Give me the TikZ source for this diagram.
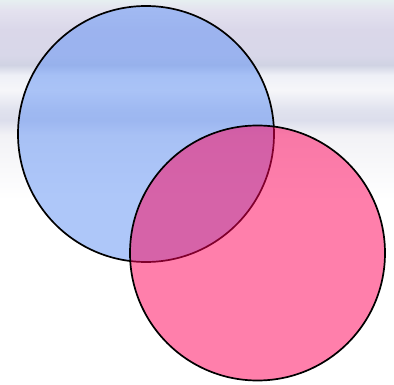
\documentclass[tikz,border=0pt]{standalone}
\begin{document}
\begin{tikzpicture}[x=1pt,y=1pt,
  band/.style={draw=none},
  venn/.style={circle,draw=black,line width=1.7pt,inner sep=0pt,minimum size=256pt},
]
\definecolor{bgA}{HTML}{E6EFF0}
\definecolor{bgB}{HTML}{E4E2EF}
\definecolor{bgC}{HTML}{DAD7E9}
\definecolor{bgD}{HTML}{D8D7E9}
\definecolor{bgE}{HTML}{D0D3E3}
\definecolor{bgF}{HTML}{EEF0F7}
\definecolor{bgG}{HTML}{F6F6F9}
\definecolor{bgH}{HTML}{E0E2EE}
\definecolor{bgI}{HTML}{DCDEEC}
\definecolor{bgJ}{HTML}{F2F2F6}
\definecolor{bluefill}{RGB}{95,145,245}
\definecolor{pinkfill}{RGB}{255,0,89}
\useasboundingbox (0,0) rectangle (394,384);
\fill[white] (0,0) rectangle (394,384);
% background bands (top y=384)
\shade[band,top color=bgA,bottom color=bgB] (0,384) rectangle (394,374);
\shade[band,top color=bgB,bottom color=bgC] (0,374) rectangle (394,354);
\shade[band,top color=bgC,bottom color=bgD] (0,354) rectangle (394,329);
\shade[band,top color=bgD,bottom color=bgE] (0,329) rectangle (394,319);
\shade[band,top color=bgE,bottom color=bgF] (0,319) rectangle (394,309);
\shade[band,top color=bgF,bottom color=bgG] (0,309) rectangle (394,294);
\shade[band,top color=bgG,bottom color=bgH] (0,294) rectangle (394,274);
\shade[band,top color=bgH,bottom color=bgI] (0,274) rectangle (394,264);
\shade[band,top color=bgI,bottom color=bgJ] (0,264) rectangle (394,249);
\shade[band,top color=bgJ,bottom color=white] (0,249) rectangle (394,184);
% circles
\node[venn,fill=bluefill,fill opacity=0.5,draw opacity=1] (blue) at (146,250) {};
\node[venn,fill=pinkfill,fill opacity=0.5,draw opacity=1,minimum size=255pt] (pink) at (257.5,131) {};
\end{tikzpicture}
\end{document}
